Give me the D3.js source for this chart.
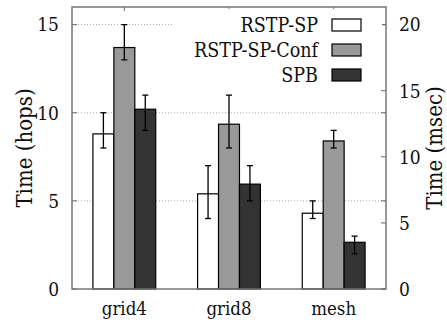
<!DOCTYPE html>
<html>
<head>
<meta charset="utf-8">
<script src="https://cdn.jsdelivr.net/npm/d3@7"></script>
<style>
  body { margin: 0; background: #fff; }
  svg text { font-stretch: condensed; }
</style>
</head>
<body>
<div id="chart"></div>
<script>
const categories = ["grid4", "grid8", "mesh"];
const seriesNames = ["RSTP-SP", "RSTP-SP-Conf", "SPB"];
// mean time in hops, per series, per category
const rstpSp = [8.8, 5.4, 4.3];
const rstpSpConf = [13.7, 9.35, 8.4];
const spb = [10.2, 5.95, 2.65];
// error bar ends
const rstpSpLow = [8.0, 4.0, 4.0], rstpSpHigh = [10.0, 7.0, 5.0];
const rstpSpConfLow = [13.0, 8.0, 8.0], rstpSpConfHigh = [15.0, 11.0, 9.0];
const spbLow = [9.0, 5.0, 2.0], spbHigh = [11.0, 7.0, 3.0];
const leftTicks = [0, 5, 10, 15];
const rightTicks = [0, 5, 10, 15, 20];

const width = 447, height = 324;
const margin = {top: 7, right: 61, bottom: 35, left: 72};
const colors = ["#ffffff", "#999999", "#333333"];
const FONT = "DejaVu Serif";

const values = [rstpSp, rstpSpConf, spb];
const lows = [rstpSpLow, rstpSpConfLow, spbLow];
const highs = [rstpSpHigh, rstpSpConfHigh, spbHigh];

let svg = d3.select("#chart")
    .append("svg")
    .attr("width", width)
    .attr("height", height)
    .style("font-family", FONT);

let x0 = margin.left, x1 = width - margin.right;
let yTop = margin.top, yBot = height - margin.bottom;

let x = d3.scaleBand().domain(categories).range([x0, x1]).padding(0);
let xs = d3.scaleBand().domain(seriesNames)
    .range([-x.bandwidth() * 0.3, x.bandwidth() * 0.3]).padding(0);
let y = d3.scaleLinear().domain([0, 16]).range([yBot, yTop]);
let y2 = d3.scaleLinear().domain([0, 16 * 4 / 3]).range([yBot, yTop]);

// grid lines
svg.append("g").selectAll("line")
    .data(leftTicks.filter(d => d > 0))
    .join("line")
    .attr("x1", x0).attr("x2", x1)
    .attr("y1", d => y(d)).attr("y2", d => y(d))
    .attr("stroke", "#aaa")
    .attr("stroke-width", 1)
    .attr("stroke-dasharray", "1,2");

// left ticks + labels
let la = svg.append("g");
la.selectAll("line").data(leftTicks).join("line")
    .attr("x1", x0).attr("x2", x0 + 5)
    .attr("y1", d => y(d)).attr("y2", d => y(d))
    .attr("stroke", "#666");
la.selectAll("text").data(leftTicks).join("text")
    .attr("x", x0 - 13).attr("y", d => y(d))
    .attr("dy", "0.36em")
    .style("text-anchor", "end")
    .style("font-size", "19px")
    .attr("fill", "#111")
    .text(d => d);

// right ticks (y2 plus mirrored y)
let ra = svg.append("g");
ra.selectAll("line.r2").data(rightTicks).join("line")
    .attr("class", "r2")
    .attr("x1", x1 - 5).attr("x2", x1)
    .attr("y1", d => y2(d)).attr("y2", d => y2(d))
    .attr("stroke", "#666");
ra.selectAll("line.m").data(leftTicks).join("line")
    .attr("class", "m")
    .attr("x1", x1 - 5).attr("x2", x1)
    .attr("y1", d => y(d)).attr("y2", d => y(d))
    .attr("stroke", "#666");
ra.selectAll("text").data(rightTicks).join("text")
    .attr("x", x1 + 13).attr("y", d => y2(d))
    .attr("dy", "0.36em")
    .style("text-anchor", "start")
    .style("font-size", "19px")
    .attr("fill", "#111")
    .text(d => d);

// x ticks (top mirror)
svg.append("g").selectAll("line").data(categories).join("line")
    .attr("x1", d => x(d) + x.bandwidth() / 2).attr("x2", d => x(d) + x.bandwidth() / 2)
    .attr("y1", yTop).attr("y2", yTop + 4)
    .attr("stroke", "#666");

svg.append("g").selectAll("text").data(categories).join("text")
    .attr("x", d => x(d) + x.bandwidth() / 2)
    .attr("y", yBot + 26)
    .style("text-anchor", "middle")
    .style("font-size", "18.5px")
    .attr("fill", "#111")
    .text(d => d);

// legend background (opaque key)
let legendRows = seriesNames.map((s, i) => ({name: s, i: i}));
svg.append("rect")
    .attr("x", 172).attr("y", yTop + 2)
    .attr("width", x1 - 4 - 172).attr("height", 80)
    .attr("fill", "#fff");

// bars
let groups = svg.append("g").selectAll("g").data(categories).join("g")
    .attr("transform", d => `translate(${x(d) + x.bandwidth() / 2},0)`);

groups.selectAll("rect")
    .data((c, ci) => seriesNames.map((s, si) => ({s: s, si: si, v: values[si][ci]})))
    .join("rect")
    .attr("x", d => xs(d.s))
    .attr("y", d => y(d.v))
    .attr("width", xs.bandwidth())
    .attr("height", d => y(0) - y(d.v))
    .attr("fill", d => colors[d.si])
    .attr("stroke", "#000")
    .attr("stroke-width", 1.2);

let errs = groups.selectAll("g.err")
    .data((c, ci) => seriesNames.map((s, si) => ({s: s, lo: lows[si][ci], hi: highs[si][ci]})))
    .join("g")
    .attr("class", "err")
    .attr("transform", d => `translate(${xs(d.s) + xs.bandwidth() / 2},0)`)
    .attr("stroke", "#000")
    .attr("stroke-width", 1.3);
errs.append("line").attr("x1", 0).attr("x2", 0)
    .attr("y1", d => y(d.lo)).attr("y2", d => y(d.hi));
errs.append("line").attr("x1", -3).attr("x2", 3)
    .attr("y1", d => y(d.lo)).attr("y2", d => y(d.lo));
errs.append("line").attr("x1", -3).attr("x2", 3)
    .attr("y1", d => y(d.hi)).attr("y2", d => y(d.hi));

// legend
let leg = svg.append("g").selectAll("g").data(legendRows).join("g")
    .attr("transform", d => `translate(0,${25 + d.i * 25})`);
leg.append("text")
    .attr("x", 318).attr("y", 0)
    .attr("dy", "0.36em")
    .style("text-anchor", "end")
    .style("font-size", "19.5px")
    .attr("fill", "#111")
    .text(d => d.name);
leg.append("rect")
    .attr("x", 332).attr("y", -6)
    .attr("width", 29).attr("height", 12)
    .attr("fill", d => colors[d.i])
    .attr("stroke", "#000")
    .attr("stroke-width", 1.2);

// frame
svg.append("rect")
    .attr("x", x0).attr("y", yTop)
    .attr("width", x1 - x0).attr("height", yBot - yTop)
    .attr("fill", "none")
    .attr("stroke", "#777")
    .attr("stroke-width", 1.5);

// axis titles
svg.append("text")
    .attr("transform", `translate(24,${(yTop + yBot) / 2}) rotate(-90)`)
    .attr("dy", "0.35em")
    .style("text-anchor", "middle")
    .style("font-size", "22px")
    .attr("fill", "#111")
    .text("Time (hops)");
svg.append("text")
    .attr("transform", `translate(434,${(yTop + yBot) / 2}) rotate(-90)`)
    .attr("dy", "0.35em")
    .style("text-anchor", "middle")
    .style("font-size", "22px")
    .attr("fill", "#111")
    .text("Time (msec)");
</script>
</body>
</html>
